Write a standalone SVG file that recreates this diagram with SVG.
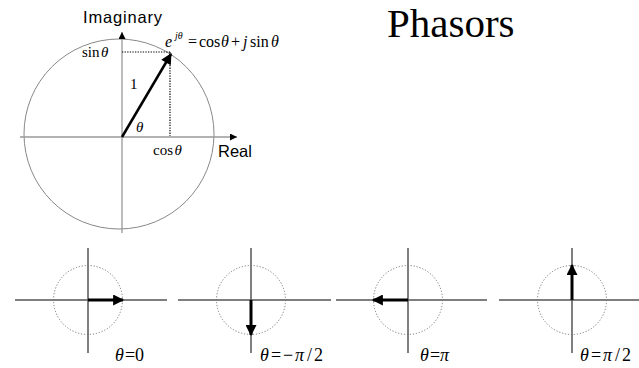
<svg xmlns="http://www.w3.org/2000/svg" width="639" height="368" viewBox="0 0 639 368">
<style>
.ser{font-family:"Liberation Serif","Times New Roman",serif;fill:#000}
.it{font-style:italic}
.sans{font-family:"Liberation Sans",Arial,sans-serif;fill:#000}
.ax{stroke:#999;stroke-width:1.3;fill:none}
.sax{stroke:#555;stroke-width:1.5;fill:none}
.dc{stroke:#777;stroke-width:1;stroke-dasharray:1.2 1.8;fill:none}
.dot{stroke:#000;stroke-width:1.2;stroke-dasharray:1.3 1.3;fill:none}
.ph{stroke:#000;stroke-width:3;fill:none}
</style>
<defs>
<marker id="axh" viewBox="0 0 10 10" refX="10" refY="5" markerWidth="7" markerHeight="7" markerUnits="userSpaceOnUse" orient="auto"><path d="M0,0 L10,5 L0,10 z" fill="#000"/></marker>
<marker id="phh" viewBox="0 0 10 10" refX="9" refY="5" markerWidth="13" markerHeight="11" markerUnits="userSpaceOnUse" orient="auto"><path d="M0,0 L10,5 L0,10 z" fill="#000"/></marker>
</defs>
<text class="ser" x="387" y="37" font-size="41">Phasors</text>
<g id="main">
<circle cx="119" cy="134" r="95" fill="none" stroke="#888" stroke-width="1"/>
<line class="ax" x1="20" y1="137" x2="237" y2="137" marker-end="url(#axh)"/>
<line class="ax" x1="122" y1="233" x2="122" y2="32" marker-end="url(#axh)"/>
<line class="dot" x1="122" y1="52" x2="170" y2="52"/>
<line class="dot" x1="170" y1="52" x2="170" y2="136"/>
<line x1="122" y1="137" x2="171" y2="54" stroke="#000" stroke-width="2.5" marker-end="url(#phh)"/>
<text class="sans" x="83" y="23" font-size="16.5" textLength="79">Imaginary</text>
<text class="sans" x="218" y="157" font-size="16.5">Real</text>
<text class="ser" x="82" y="57" font-size="15">sin<tspan class="it" dx="1.5">θ</tspan></text>
<text class="ser" x="130" y="89" font-size="15">1</text>
<text class="ser it" x="136" y="132" font-size="15">θ</text>
<text class="ser" x="153" y="155" font-size="15">cos<tspan class="it" dx="1.5">θ</tspan></text>
<text class="ser" y="47" font-size="16"><tspan class="it" x="165">e</tspan><tspan class="it" x="175" y="39" font-size="10">jθ</tspan><tspan x="188" y="47">=</tspan><tspan x="199">cos</tspan><tspan class="it" x="221">θ</tspan><tspan x="231">+</tspan><tspan class="it" x="243">j</tspan><tspan x="250">sin</tspan><tspan class="it" x="271">θ</tspan></text>
</g>
<g id="phasor-0">
<line class="sax" x1="15" y1="300" x2="167" y2="300"/>
<line class="sax" x1="88" y1="248" x2="88" y2="353"/>
<circle class="dc" cx="88" cy="300" r="34.5"/>
<line class="ph" x1="88" y1="300" x2="123" y2="300" marker-end="url(#phh)"/>
<text class="ser" y="361" font-size="18"><tspan class="it" x="115">θ</tspan><tspan x="125">=</tspan><tspan x="135">0</tspan></text>
</g>
<g id="phasor-neg-pi-2">
<line class="sax" x1="178" y1="300" x2="331" y2="300"/>
<line class="sax" x1="251" y1="248" x2="251" y2="353"/>
<circle class="dc" cx="251" cy="300" r="34.5"/>
<line class="ph" x1="251" y1="300" x2="251" y2="335" marker-end="url(#phh)"/>
<text class="ser" y="361" font-size="18"><tspan class="it" x="260">θ</tspan><tspan x="271">=</tspan><tspan x="283">−</tspan><tspan class="it" x="295">π</tspan><tspan x="307">/</tspan><tspan x="314">2</tspan></text>
</g>
<g id="phasor-pi">
<line class="sax" x1="336" y1="300" x2="487" y2="300"/>
<line class="sax" x1="408" y1="248" x2="408" y2="353"/>
<circle class="dc" cx="408" cy="300" r="34.5"/>
<line class="ph" x1="408" y1="300" x2="373" y2="300" marker-end="url(#phh)"/>
<text class="ser" y="361" font-size="18"><tspan class="it" x="420">θ</tspan><tspan x="430">=</tspan><tspan class="it" x="440">π</tspan></text>
</g>
<g id="phasor-pi-2">
<line class="sax" x1="499" y1="300" x2="639" y2="300"/>
<line class="sax" x1="572" y1="248" x2="572" y2="353"/>
<circle class="dc" cx="572" cy="300" r="34.5"/>
<line class="ph" x1="572" y1="300" x2="572" y2="265" marker-end="url(#phh)"/>
<text class="ser" y="361" font-size="18"><tspan class="it" x="580">θ</tspan><tspan x="591">=</tspan><tspan class="it" x="603">π</tspan><tspan x="615">/</tspan><tspan x="622">2</tspan></text>
</g>
</svg>
